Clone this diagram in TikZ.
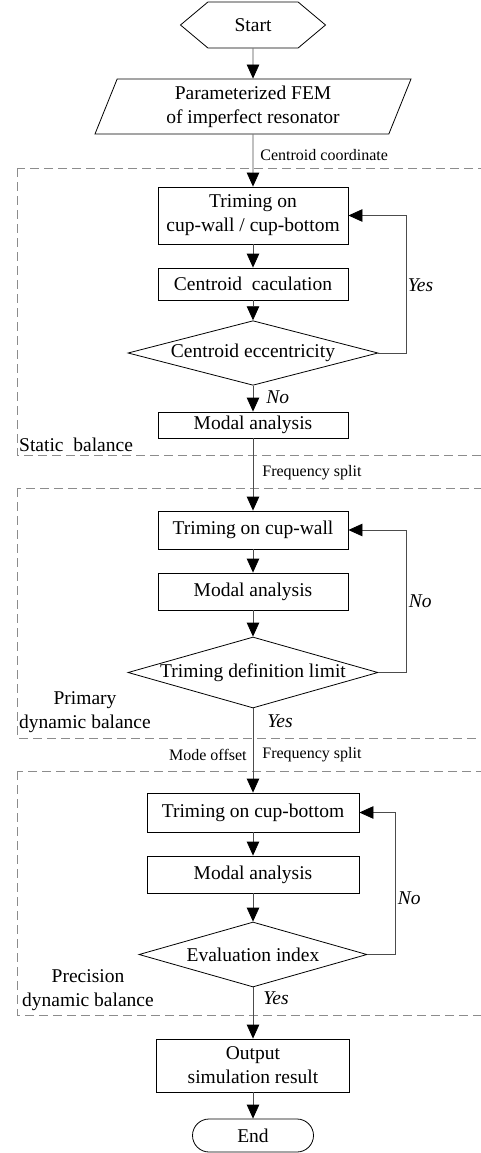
\documentclass[tikz,border=0pt]{standalone}
\usepackage{fontspec}
\setmainfont{Liberation Serif}
\usetikzlibrary{calc,arrows.meta,shapes.geometric,shapes.symbols,shapes.misc}

\begin{document}
\begin{tikzpicture}[x=1pt,y=1pt,
  every node/.style={font=\fontsize{19.5}{24}\selectfont},
  terminal/.style={signal, signal to=west and east, signal pointer angle=80, draw=black, line width=0.8pt, minimum width=145pt, minimum height=46pt, inner sep=0pt},
  inputbox/.style={trapezium, trapezium left angle=62, trapezium right angle=118, trapezium stretches body, draw=black, line width=0.8pt, minimum width=316pt, minimum height=55pt, inner sep=0pt, align=center},
  box/.style={rectangle, draw=black, line width=0.8pt, minimum width=190pt, inner sep=0pt, align=center},
  decision/.style={diamond, draw=black, line width=0.8pt, inner sep=0pt, aspect=3.5, minimum width=250pt},
  flow/.style={draw=black!70, line width=0.8pt, -{Triangle[length=14pt,width=12.5pt,color=black]}},
  lbl/.style={font=\fontsize{16}{19}\selectfont, inner sep=0pt},
  yesno/.style={font=\fontsize{19.5}{24}\selectfont\itshape, inner sep=0pt, anchor=west},
  stage/.style={draw=black!45, line width=0.8pt, dash pattern=on 9pt off 5pt},
  group/.style={align=center, inner sep=0pt}]

\useasboundingbox (0,0) rectangle (480,-1153);

\node[terminal] (start) at (253,-25) {Start};

\node[inputbox] (fem) at ($(start) + (0,-81.5)$) {Parameterized FEM\\of imperfect resonator};

% static balance
\node[box, minimum height=57pt] (trim1) at ($(fem) + (0,-109)$) {Triming on\\cup-wall / cup-bottom};

\node[box, minimum height=32pt] (calc1) at ($(trim1) + (0,-68.5)$) {Centroid\ \ caculation};

\node[decision, minimum height=60pt] (ecc) at ($(calc1) + (0,-69)$) {Centroid eccentricity};

\node[box, minimum height=26pt] (modal1) at ($(ecc) + (0,-72)$) {Modal analysis};

% primary dynamic balance
\node[box, minimum height=38pt] (trim2) at ($(modal1) + (0,-105)$) {Triming on cup-wall};

\node[box, minimum height=37pt] (modal2) at ($(trim2) + (0,-61.5)$) {Modal analysis};

\node[decision, minimum height=71pt] (limit) at ($(modal2) + (0,-81)$) {Triming definition limit};

% precision dynamic balance
\node[box, minimum width=212pt, minimum height=39pt] (trim3) at ($(limit) + (0,-140)$) {Triming on cup-bottom};

\node[box, minimum width=212pt, minimum height=37pt] (modal3) at ($(trim3) + (0,-62)$) {Modal analysis};

\node[decision, minimum width=228pt, minimum height=65pt] (index) at ($(modal3) + (0,-80)$) {Evaluation index};

\node[box, minimum width=193pt, minimum height=53pt] (output) at ($(index) + (0,-111)$) {Output\\simulation result};

\node[rounded rectangle, draw=black, line width=0.8pt, minimum width=121pt, minimum height=33pt, inner sep=0pt] (end) at ($(output) + (0,-70)$) {End};

\node[group, anchor=west] (static) at (19,-445) {Static\ \ balance};
\node[group] (primary) at (85,-712) {Primary\\dynamic balance};
\node[group] (precision) at (88,-990) {Precision\\dynamic balance};

\draw[stage] (17,-168) rectangle (490,-455);
\draw[stage] (17,-488) rectangle (490,-738);
\draw[stage] (17,-771) rectangle (490,-1015);

\draw[flow] (start) -- (fem);
\draw[flow] (fem) -- node[lbl, pos=0.4, anchor=west, xshift=7pt] {Centroid coordinate} (trim1);
\draw[flow] (trim1) -- (calc1);
\draw[flow] (calc1) -- (ecc);
\draw[flow] (ecc) -- node[yesno, pos=0.45, xshift=13pt] {No} (modal1);
\draw[flow] (ecc.east) -- ++(28,0) |- node[yesno, pos=0.245, xshift=1pt] {Yes} (trim1.east);

\draw[flow] (modal1) -- node[lbl, pos=0.47, anchor=west, xshift=9pt] {Frequency split} (trim2);
\draw[flow] (trim2) -- (modal2);
\draw[flow] (modal2) -- (limit);
\draw[flow] (limit.east) -- ++(28,0) |- node[yesno, pos=0.25, xshift=2pt] {No} (trim2.east);
\draw[flow] (limit) -- node[yesno, pos=0.15, xshift=14pt] {Yes}
  node[lbl, pos=0.55, anchor=east, xshift=-6pt] {Mode offset}
  node[lbl, pos=0.55, anchor=west, xshift=9pt] {Frequency split} (trim3);

\draw[flow] (trim3) -- (modal3);
\draw[flow] (modal3) -- (index);
\draw[flow] (index.east) -- ++(28,0) |- node[yesno, pos=0.2, xshift=2pt] {No} (trim3.east);
\draw[flow] (index) -- node[yesno, pos=0.21, xshift=10pt] {Yes} (output);
\draw[flow] (output) -- (end);

\end{tikzpicture}
\end{document}
